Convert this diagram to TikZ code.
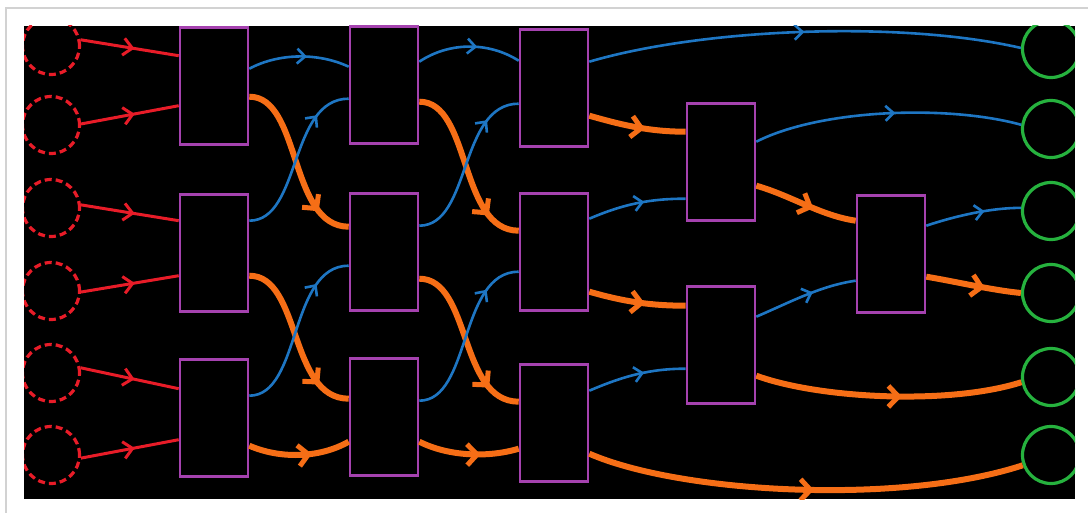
\documentclass[tikz,border=0pt]{standalone}
\usetikzlibrary{arrows.meta,decorations.markings,calc}
\definecolor{myred}{RGB}{232,28,40}
\definecolor{myblue}{RGB}{30,118,195}
\definecolor{myorange}{RGB}{246,110,22}
\definecolor{mypurple}{RGB}{165,66,175}
\definecolor{mygreen}{RGB}{38,178,62}
\tikzset{
  box/.style={draw=mypurple, fill=black, line width=2.6pt, minimum width=68pt, minimum height=117pt, inner sep=0pt},
  incirc/.style={circle, draw=myred, dash pattern=on 7pt off 4pt, line width=3.2pt, minimum size=57pt, inner sep=0pt},
  outcirc/.style={circle, draw=mygreen, line width=3.2pt, minimum size=57pt, inner sep=0pt},
  rarr/.style={draw=myred, line width=3pt, postaction={decorate, decoration={markings, mark=at position #1 with {\arrow{Straight Barb[length=9pt,width=17pt,line width=3pt]}}}}},
  barr/.style={draw=myblue, line width=2.6pt, postaction={decorate, decoration={markings, mark=at position #1 with {\arrow{Straight Barb[length=8pt,width=15pt,line width=2.6pt]}}}}},
  oarr/.style={draw=myorange, line width=6pt, postaction={decorate, decoration={markings, mark=at position #1 with {\arrow{Straight Barb[length=10pt,width=21pt,line width=5pt]}}}}},
}
\begin{document}
\begin{tikzpicture}[x=1pt,y=-1pt]
\useasboundingbox (0,0) rectangle (1088,513);
\fill[white] (0,0) rectangle (1088,513);
\draw[gray!35, line width=2pt] (6,513) -- (6,8) -- (1088,8);
\fill[black] (24,26) rectangle (1075,499);
\begin{scope}
\clip (24,26) rectangle (1075,499);
% input circles
\node[incirc] (in1) at (51,46) {};
\node[incirc] (in2) at (51,125) {};
\node[incirc] (in3) at (51,208) {};
\node[incirc] (in4) at (51,291) {};
\node[incirc] (in5) at (51,373) {};
\node[incirc] (in6) at (51,455) {};
% output circles
\node[outcirc] (g1) at (1051,49) {};
\node[outcirc] (g2) at (1051,129) {};
\node[outcirc] (g3) at (1051,211) {};
\node[outcirc] (g4) at (1051,293) {};
\node[outcirc] (g5) at (1051,377) {};
\node[outcirc] (g6) at (1051,455) {};
% boxes
\node[box] (b11) at (214,86) {};
\node[box] (b12) at (214,253) {};
\node[box] (b13) at (214,418) {};
\node[box] (b21) at (384,85) {};
\node[box] (b22) at (384,252) {};
\node[box] (b23) at (384,417) {};
\node[box] (b31) at (554,88) {};
\node[box] (b32) at (554,252) {};
\node[box] (b33) at (554,423) {};
\node[box] (b41) at (721,162) {};
\node[box] (b42) at (721,345) {};
\node[box] (b5) at (891,254) {};
% red inputs
\draw[rarr=0.55] (in1.12) -- ($(b11.north west)+(0,29.5)$);
\draw[rarr=0.55] (in2.2) -- ($(b11.north west)+(0,79.5)$);
\draw[rarr=0.55] (in3.6) -- ($(b12.north west)+(0,27.5)$);
\draw[rarr=0.55] (in4.-2) -- ($(b12.north west)+(0,82.5)$);
\draw[rarr=0.55] (in5.10) -- ($(b13.north west)+(0,30.5)$);
\draw[rarr=0.55] (in6.-6) -- ($(b13.north west)+(0,81.5)$);
% column 1 -> column 2
\draw[barr=0.58] ($(b11.north east)+(0,42.5)$) .. controls +(30,-16) and +(-30,-14) .. ($(b21.north west)+(0,41.5)$);
\draw[oarr=0.8] ($(b11.north east)+(0,70.5)$) .. controls +(52,0) and +(-60,0) .. ($(b22.north west)+(0,34.5)$);
\draw[barr=0.78] ($(b12.north east)+(0,27.5)$) .. controls +(52,0) and +(-60,0) .. ($(b21.north west)+(0,73.5)$);
\draw[oarr=0.8] ($(b12.north east)+(0,82.5)$) .. controls +(52,0) and +(-60,0) .. ($(b23.north west)+(0,41.5)$);
\draw[barr=0.78] ($(b13.north east)+(0,37.5)$) .. controls +(52,0) and +(-60,0) .. ($(b22.north west)+(0,73.5)$);
\draw[oarr=0.62] ($(b13.north east)+(0,87.5)$) .. controls +(30,13) and +(-30,17) .. ($(b23.north west)+(0,84.5)$);
% column 2 -> column 3
\draw[barr=0.58] ($(b21.north east)+(0,36.5)$) .. controls +(30,-20) and +(-30,-19) .. ($(b31.north west)+(0,32.5)$);
\draw[oarr=0.8] ($(b21.north east)+(0,76.5)$) .. controls +(52,0) and +(-60,0) .. ($(b32.north west)+(0,38.5)$);
\draw[barr=0.78] ($(b22.north east)+(0,33.5)$) .. controls +(52,0) and +(-60,0) .. ($(b31.north west)+(0,75.5)$);
\draw[oarr=0.8] ($(b22.north east)+(0,86.5)$) .. controls +(52,0) and +(-60,0) .. ($(b33.north west)+(0,38.5)$);
\draw[barr=0.78] ($(b23.north east)+(0,43.5)$) .. controls +(52,0) and +(-60,0) .. ($(b32.north west)+(0,79.5)$);
\draw[oarr=0.62] ($(b23.north east)+(0,84.5)$) .. controls +(30,15) and +(-30,9) .. ($(b33.north west)+(0,85.5)$);
% column 3 -> onwards
\draw[barr=0.5] ($(b31.north east)+(0,33.5)$) .. controls +(112,-33) and +(-122,-28) .. (g1.178);
\draw[oarr=0.58] ($(b31.north east)+(0,87.5)$) .. controls +(35,10) and +(-35,0) .. ($(b41.north west)+(0,29.5)$);
\draw[barr=0.58] ($(b32.north east)+(0,26.5)$) .. controls +(35,-15) and +(-35,0) .. ($(b41.north west)+(0,96.5)$);
\draw[oarr=0.58] ($(b32.north east)+(0,99.5)$) .. controls +(35,10) and +(-35,0) .. ($(b42.north west)+(0,20.5)$);
\draw[barr=0.58] ($(b33.north east)+(0,27.5)$) .. controls +(35,-15) and +(-35,0) .. ($(b42.north west)+(0,83.5)$);
\draw[oarr=0.52] ($(b33.north east)+(0,90.5)$) .. controls +(92,40) and +(-122,40) .. (g6.200);
% column 4 -> onwards
\draw[barr=0.53] ($(b41.north east)+(0,39.5)$) .. controls +(65,-33) and +(-72,-20) .. (g2.172);
\draw[oarr=0.58] ($(b41.north east)+(0,83.5)$) .. controls +(35,10) and +(-35,-5) .. ($(b5.north west)+(0,26.5)$);
\draw[barr=0.58] ($(b42.north east)+(0,31.5)$) .. controls +(35,-15) and +(-35,5) .. ($(b5.north west)+(0,86.5)$);
\draw[oarr=0.55] ($(b42.north east)+(0,90.5)$) .. controls +(63,23) and +(-72,23) .. (g5.190);
% column 5 -> outputs
\draw[barr=0.62] ($(b5.north east)+(0,31.5)$) .. controls +(30,-10) and +(-30,0) .. (g3.174);
\draw[oarr=0.62] ($(b5.north east)+(0,82.5)$) .. controls +(30,5) and +(-30,-3) .. (g4.180);
\end{scope}
\end{tikzpicture}
\end{document}
